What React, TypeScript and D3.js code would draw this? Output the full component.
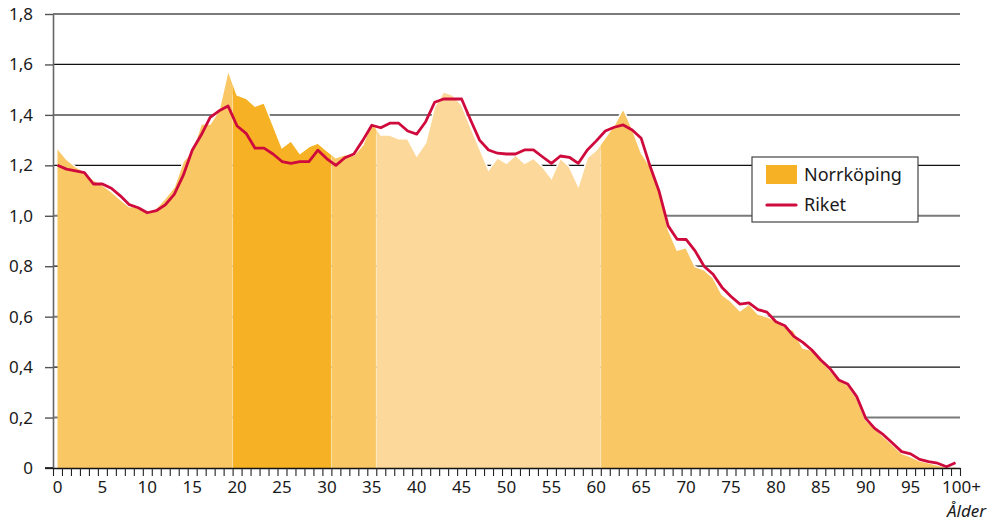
import { useEffect, useRef } from 'react';
import * as d3 from 'd3';

const ages: string[] = [...d3.range(0, 100).map(String), '100+'];

const norrkoping: number[] = [
  1.268, 1.224, 1.195, 1.175, 1.142, 1.122, 1.096, 1.065, 1.036, 1.039,
  1.010, 1.030, 1.069, 1.115, 1.215, 1.254, 1.364, 1.364, 1.42, 1.578,
  1.479, 1.466, 1.435, 1.448, 1.36, 1.27, 1.297, 1.247, 1.274, 1.288,
  1.258, 1.23, 1.243, 1.24, 1.28, 1.373, 1.32, 1.32, 1.305, 1.305,
  1.238, 1.29, 1.433, 1.492, 1.479, 1.44, 1.353, 1.268, 1.182, 1.230,
  1.208, 1.241, 1.208, 1.228, 1.195, 1.149, 1.228, 1.195, 1.118, 1.230,
  1.261, 1.31, 1.36, 1.425, 1.345, 1.25, 1.195, 1.102, 0.947, 0.864,
  0.874, 0.798, 0.786, 0.755, 0.688, 0.66, 0.623, 0.65, 0.61, 0.6,
  0.584, 0.56, 0.545, 0.475, 0.468, 0.428, 0.389, 0.349, 0.329, 0.276,
  0.19, 0.157, 0.124, 0.091, 0.058, 0.045, 0.029, 0.021, 0.012, 0.003,
  0.005,
];

const riket: number[] = [
  1.20, 1.185, 1.178, 1.171, 1.126, 1.126, 1.109, 1.079, 1.044, 1.032,
  1.012, 1.020, 1.043, 1.085, 1.16, 1.26, 1.32, 1.39, 1.416, 1.435,
  1.356, 1.327, 1.268, 1.268, 1.245, 1.215, 1.208, 1.215, 1.215, 1.26,
  1.226, 1.2, 1.23, 1.245, 1.299, 1.359, 1.349, 1.367, 1.367, 1.336,
  1.324, 1.373, 1.45, 1.463, 1.463, 1.463, 1.38, 1.30, 1.261, 1.248,
  1.245, 1.245, 1.261, 1.261, 1.234, 1.208, 1.237, 1.232, 1.208, 1.261,
  1.297, 1.336, 1.351, 1.36, 1.34, 1.307, 1.195, 1.096, 0.96, 0.907,
  0.906, 0.861, 0.80, 0.768, 0.716, 0.68, 0.65, 0.655, 0.628, 0.618,
  0.58, 0.564, 0.522, 0.498, 0.468, 0.428, 0.395, 0.349, 0.333, 0.283,
  0.197, 0.157, 0.131, 0.098, 0.065, 0.056, 0.034, 0.025, 0.019, 0.005,
  0.021,
];

// age groups shaded differently (first age, last age, colour)
const groupStart: number[] = [0, 20, 31, 36, 61];
const groupEnd: number[] = [19, 30, 35, 60, 100];
const groupColor: string[] = ['#F9C764', '#F6B224', '#F9C764', '#FCD89B', '#F9C764'];

const yTicks: number[] = [0, 0.2, 0.4, 0.6, 0.8, 1.0, 1.2, 1.4, 1.6, 1.8];
const xLabels: string[] = ['0', '5', '10', '15', '20', '25', '30', '35', '40', '45', '50',
  '55', '60', '65', '70', '75', '80', '85', '90', '95', '100+'];

const legendNames: string[] = ['Norrköping', 'Riket'];

const FONT = "'Noto Sans', 'Open Sans', sans-serif";

const AgeChart = () => {
  const graphRef = useRef<HTMLDivElement>(null);

  useEffect(() => {
    const width = 991;
    const height = 523;
    const left = 53;
    const right = 960;
    const top = 14;
    const bottom = 468;

    const svg = d3
      .select(graphRef.current)
      .append('svg')
      .attr('width', width)
      .attr('height', height)
      .style('display', 'block')
      .style('font-family', FONT);

    const x = d3.scaleBand<string>().domain(ages).range([left, right]).padding(0);
    const xEdge = d3.scaleLinear().domain([0, ages.length]).range([left, right]);
    const y = d3.scaleLinear().domain([0, 1.8]).range([bottom, top]);
    const cx = (i: number) => (x(ages[i]) as number) + x.bandwidth() / 2;

    // gridlines, alternating black / grey
    svg
      .append('g')
      .selectAll('line')
      .data(yTicks.filter(d => d > 0))
      .enter()
      .append('line')
      .attr('x1', left)
      .attr('x2', right)
      .attr('y1', d => y(d))
      .attr('y2', d => y(d))
      .attr('stroke', (d, i) => (i % 2 === 0 ? '#7a7a7a' : '#111'))
      .attr('stroke-width', (d, i) => (i % 2 === 0 ? 2 : 1.2));

    const idx = d3.range(ages.length);
    const area = d3
      .area<number>()
      .x(i => cx(i))
      .y0(y(0))
      .y1(i => y(norrkoping[i]));

    const defs = svg.append('defs');
    groupStart.forEach((s, g) => {
      const x0 = s === 0 ? left : (cx(s - 1) + cx(s)) / 2;
      const x1 = groupEnd[g] === ages.length - 1 ? right : (cx(groupEnd[g]) + cx(groupEnd[g] + 1)) / 2;
      defs
        .append('clipPath')
        .attr('id', `grp${g}`)
        .append('rect')
        .attr('x', x0)
        .attr('y', 0)
        .attr('width', x1 - x0)
        .attr('height', height);
      svg
        .append('path')
        .datum(idx)
        .attr('clip-path', `url(#grp${g})`)
        .attr('d', area)
        .attr('fill', groupColor[g]);
    });

    // faint separators between the groups
    svg
      .append('g')
      .selectAll('line')
      .data(groupStart.slice(1))
      .enter()
      .append('line')
      .attr('x1', d => (cx(d - 1) + cx(d)) / 2)
      .attr('x2', d => (cx(d - 1) + cx(d)) / 2)
      .attr('y1', d => y(Math.min(norrkoping[d - 1], norrkoping[d])))
      .attr('y2', bottom)
      .attr('stroke', '#fff')
      .attr('stroke-opacity', 0.35)
      .attr('stroke-width', 1);

    // white edge on top of the area
    svg
      .append('path')
      .datum(idx)
      .attr('d', d3.line<number>().x(i => cx(i)).y(i => y(norrkoping[i])))
      .attr('fill', 'none')
      .attr('stroke', '#fff')
      .attr('stroke-width', 1.5);

    // Riket line
    svg
      .append('path')
      .datum(idx)
      .attr('d', d3.line<number>().x(i => cx(i)).y(i => y(riket[i])))
      .attr('fill', 'none')
      .attr('stroke', '#CF0A3C')
      .attr('stroke-width', 2.8)
      .attr('stroke-linejoin', 'round');

    // y axis
    const yAxis = svg
      .append('g')
      .attr('transform', `translate(${left},0)`)
      .call(
        d3.axisLeft(y)
          .tickValues(yTicks)
          .tickSize(8)
          .tickSizeOuter(0)
          .tickPadding(12)
          .tickFormat(d => (+d === 0 ? '0' : (+d).toFixed(1).replace('.', ',')))
      );
    yAxis.select('.domain').attr('stroke', '#666').attr('stroke-width', 1.6);
    yAxis.selectAll('.tick line').attr('stroke', '#555').attr('stroke-width', 1.4);
    yAxis
      .selectAll('.tick text')
      .attr('font-size', 17)
      .attr('fill', '#1a1a1a')
      .style('font-family', FONT);

    // x axis: small ticks on band edges
    const xTickAxis = svg
      .append('g')
      .attr('transform', `translate(0,${bottom})`)
      .call(
        d3.axisBottom(xEdge)
          .tickValues(d3.range(0, ages.length + 1))
          .tickSize(8)
          .tickSizeOuter(0)
          .tickFormat(() => '')
      );
    xTickAxis.select('.domain').attr('stroke', '#111').attr('stroke-width', 1.6);
    xTickAxis.selectAll('.tick line').attr('stroke', '#222').attr('stroke-width', 1.1);
    svg
      .append('line')
      .attr('x1', left - 8)
      .attr('x2', left)
      .attr('y1', bottom)
      .attr('y2', bottom)
      .attr('stroke', '#111')
      .attr('stroke-width', 1.6);

    // x axis labels at band centres
    const xLabelAxis = svg
      .append('g')
      .attr('transform', `translate(0,${bottom})`)
      .call(d3.axisBottom(x).tickValues(xLabels).tickSize(0).tickPadding(13));
    xLabelAxis.select('.domain').remove();
    xLabelAxis
      .selectAll('.tick text')
      .attr('font-size', 17)
      .attr('fill', '#1a1a1a')
      .style('font-family', FONT);
    xLabelAxis
      .selectAll<SVGTextElement, string>('.tick text')
      .filter(d => d === '100+')
      .attr('text-anchor', 'start')
      .attr('dx', -x.bandwidth() / 2 - 9);

    svg
      .append('text')
      .attr('x', 986)
      .attr('y', 517)
      .attr('text-anchor', 'end')
      .attr('font-size', 17)
      .attr('font-style', 'italic')
      .attr('fill', '#1a1a1a')
      .text('Ålder');

    // legend
    const legend = svg.append('g').attr('transform', 'translate(752,157)');
    legend
      .append('rect')
      .attr('width', 166)
      .attr('height', 65)
      .attr('fill', '#fff')
      .attr('stroke', '#444')
      .attr('stroke-width', 1.2);
    legend
      .append('rect')
      .attr('x', 14)
      .attr('y', 8)
      .attr('width', 31)
      .attr('height', 19)
      .attr('fill', '#F6B224');
    legend
      .append('line')
      .attr('x1', 15)
      .attr('x2', 44)
      .attr('y1', 48)
      .attr('y2', 48)
      .attr('stroke', '#CF0A3C')
      .attr('stroke-width', 3.2)
      .attr('stroke-linecap', 'round');
    legend
      .selectAll('text')
      .data(legendNames)
      .enter()
      .append('text')
      .attr('x', 52)
      .attr('y', (d, i) => 24 + i * 30)
      .attr('font-size', 18)
      .attr('fill', '#1a1a1a')
      .text(d => d);

    return () => {
      d3.select(graphRef.current).selectAll('*').remove();
    };
  }, []);

  return <div ref={graphRef} style={{ position: 'absolute', left: 0, top: 0 }}></div>;
};

export default function App() {
  return <AgeChart />;
}
